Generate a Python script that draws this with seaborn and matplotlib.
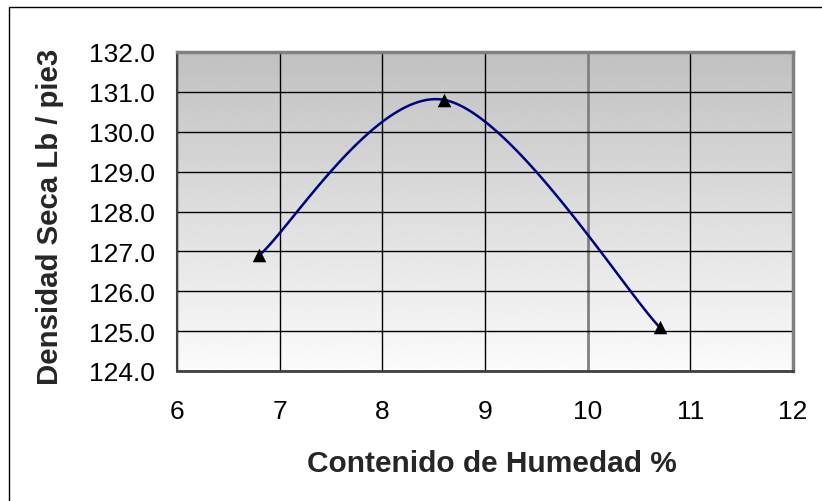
import numpy as np
import pandas as pd
import matplotlib
matplotlib.use("Agg")
import matplotlib.pyplot as plt
from matplotlib.patches import Rectangle
import seaborn as sns

# Compaction test results
humedad = [6.8, 8.6, 10.7]          # moisture content, %
densidad = [126.9, 130.8, 125.1]    # dry density, lb/ft3

x_ticks = [6, 7, 8, 9, 10, 11, 12]
y_ticks = [124.0, 125.0, 126.0, 127.0, 128.0, 129.0, 130.0, 131.0, 132.0]

x_label = "Contenido de Humedad %"
y_label = "Densidad Seca Lb / pie3"

sns.set_style("white")
plt.rcParams["font.family"] = ["Liberation Sans", "DejaVu Sans"]


def smooth_curve(xs, ys, n=60):
    """Piecewise cubic Bezier through the points (spreadsheet-style smoothing)."""
    p = np.column_stack([xs, ys]).astype(float)
    ext = np.vstack([p[0], p, p[-1]])
    out = []
    for i in range(len(p) - 1):
        p0, p1 = p[i], p[i + 1]
        c1 = p0 + (ext[i + 2] - ext[i]) / 6.0
        c2 = p1 - (ext[i + 3] - ext[i + 1]) / 6.0
        t = np.linspace(0, 1, n)[:, None]
        seg = ((1 - t) ** 3) * p0 + 3 * ((1 - t) ** 2) * t * c1 \
            + 3 * (1 - t) * (t ** 2) * c2 + (t ** 3) * p1
        out.append(seg if i == 0 else seg[1:])
    return np.vstack(out)


df = pd.DataFrame({"humedad": humedad, "densidad": densidad})
curve = smooth_curve(humedad, densidad)
curve_df = pd.DataFrame({"humedad": curve[:, 0], "densidad": curve[:, 1]})

fig = plt.figure(figsize=(8.22, 5.02), dpi=100)
ax = fig.add_axes([177 / 822, 1 - 372 / 502, 616 / 822, 319 / 502])

ax.set_xlim(x_ticks[0], x_ticks[-1])
ax.set_ylim(y_ticks[0], y_ticks[-1])

# vertical gradient: gray at the top fading to near-white at the bottom
grad = np.linspace(0.755, 0.985, 256)[:, None]
ax.imshow(grad, cmap="gray", vmin=0, vmax=1, aspect="auto",
          extent=[x_ticks[0], x_ticks[-1], y_ticks[0], y_ticks[-1]],
          origin="upper", zorder=-2, interpolation="bilinear")

ax.set_xticks(x_ticks)
ax.set_yticks(y_ticks)
ax.set_yticklabels([f"{v:.1f}" for v in y_ticks])
ax.grid(True, color="black", linewidth=1.0)
ax.set_axisbelow(True)
for gl, v in zip(ax.get_xgridlines(), x_ticks):
    if v == 10:
        gl.set_color("#808080")
        gl.set_linewidth(2.0)

sns.lineplot(data=curve_df, x="humedad", y="densidad", sort=False,
             color="#000080", linewidth=1.8, ax=ax, zorder=3)
sns.scatterplot(data=df, x="humedad", y="densidad", marker="^", s=95,
                color="black", edgecolor="black", linewidth=0, ax=ax, zorder=4)

ax.tick_params(axis="both", direction="out", length=7, width=1.0,
               color="#404040", labelsize=19, labelcolor="black")
ax.tick_params(axis="y", pad=9)
ax.tick_params(axis="x", pad=13)

for side in ["top", "right"]:
    ax.spines[side].set_color("#808080")
    ax.spines[side].set_linewidth(2.5)
ax.spines["left"].set_color("#404040")
ax.spines["left"].set_linewidth(1.5)
ax.spines["bottom"].set_color("#404040")
ax.spines["bottom"].set_linewidth(2.0)

ax.set_xlabel(x_label, fontsize=21.5, fontweight="bold", va="center")
ax.set_ylabel(y_label, fontsize=21.2, fontweight="bold", va="center")
ax.xaxis.set_label_coords((492 - 177) / 616, (372 - 464) / 319)
ax.yaxis.set_label_coords((50 - 177) / 616, (372 - 217) / 319)

# chart-area frame
fig.patches.append(Rectangle((9 / 822, -0.1), 1.2, 1 - 7.5 / 502 + 0.1,
                             transform=fig.transFigure, fill=False,
                             edgecolor="black", linewidth=1.0))

fig.savefig("out.png", dpi=100, facecolor="white")
